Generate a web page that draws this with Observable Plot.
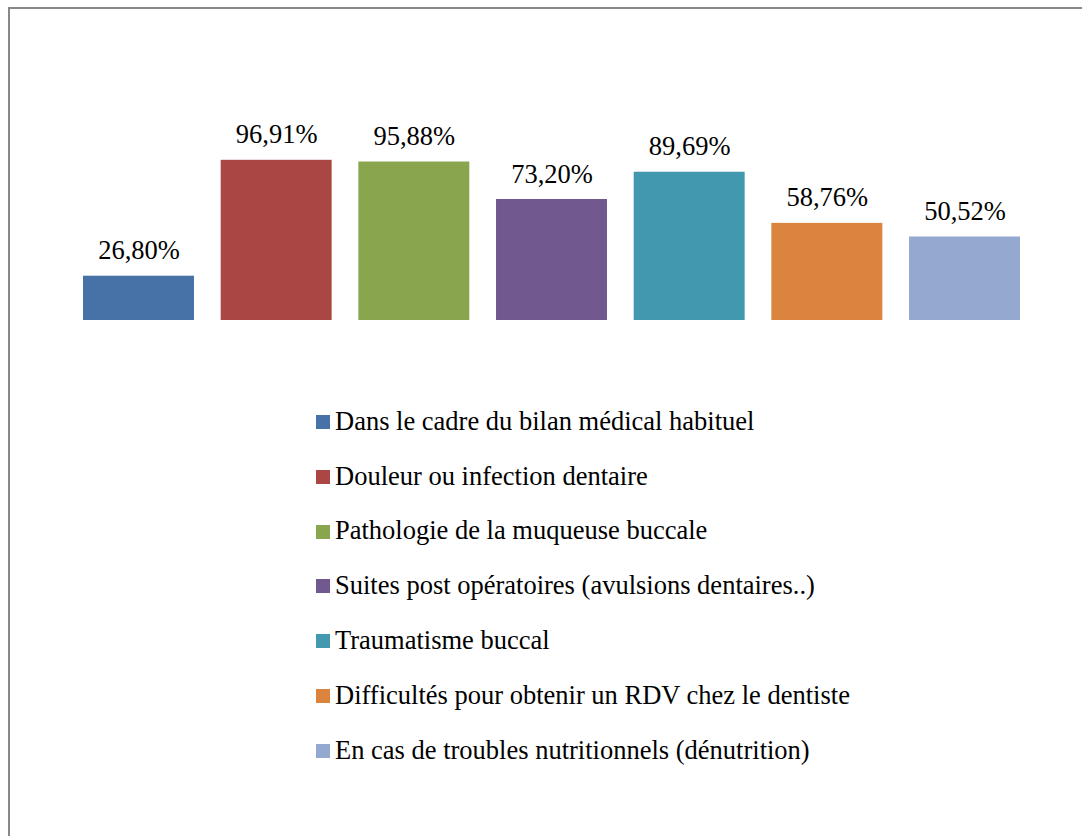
<!DOCTYPE html>
<html>
<head>
<meta charset="utf-8">
<script src="https://cdn.jsdelivr.net/npm/d3@7"></script>
<script src="https://cdn.jsdelivr.net/npm/@observablehq/plot@0.6"></script>
<style>
  html, body { margin: 0; padding: 0; background: #fff; }
  #wrap { position: relative; width: 1082px; height: 836px; overflow: hidden; font-family: "Liberation Serif", "Times New Roman", serif; }
  #frame { position: absolute; left: 8px; top: 7px; right: -20px; bottom: -20px; border-top: 2px solid #888; border-left: 2px solid #888; }
  #chart { position: absolute; left: 0; top: 0; }
  #chart svg text { font-family: "Liberation Serif", "Times New Roman", serif; }
  #legend { position: absolute; left: 316px; top: 393.6px; }
  .row { display: flex; align-items: center; height: 54.8px; }
  .sw { width: 14px; height: 14px; margin-right: 5px; flex: none; position: relative; top: 1px; }
  .lab { font-size: 26.5px; line-height: 1; color: #000; white-space: nowrap; }
</style>
</head>
<body>
<div id="wrap">
  <div id="frame"></div>
  <div id="chart"></div>
  <div id="legend"></div>
</div>
<script>
const categories = [
  "Dans le cadre du bilan médical habituel",
  "Douleur ou infection dentaire",
  "Pathologie de la muqueuse buccale",
  "Suites post opératoires (avulsions dentaires..)",
  "Traumatisme buccal",
  "Difficultés pour obtenir un RDV chez le dentiste",
  "En cas de troubles nutritionnels (dénutrition)"
];
const values = [26.80, 96.91, 95.88, 73.20, 89.69, 58.76, 50.52];
const palette = ["#4672A7", "#AA4643", "#89A54E", "#71588F", "#4198AF", "#DB843D", "#93A9CF"];

const data = categories.map((c, i) => ({cat: c, value: values[i]}));
const fmt = v => d3.format(".2f")(v).replace(".", ",") + "%";
const serif = "'Liberation Serif', 'Times New Roman', serif";

const chart = Plot.plot({
  width: 1082,
  height: 340,
  marginLeft: 56.3,
  marginRight: 35.3,
  marginTop: 154.7,
  marginBottom: 20,
  x: {domain: categories, padding: 0.194, round: false, axis: null},
  y: {domain: [0, 100], axis: null},
  color: {domain: categories, range: palette},
  style: {background: "transparent", fontFamily: serif, fontSize: "26.5px", overflow: "visible"},
  marks: [
    Plot.barY(data, {x: "cat", y: "value", fill: "cat"}),
    Plot.text(data, {x: "cat", y: "value", text: d => fmt(d.value), dy: -17, lineAnchor: "bottom", fill: "#000", fontSize: 26.5, fontFamily: serif})
  ]
});
document.getElementById("chart").appendChild(chart);

const legend = document.getElementById("legend");
categories.forEach((c, i) => {
  const row = document.createElement("div");
  row.className = "row";
  const sw = document.createElement("span");
  sw.className = "sw";
  sw.style.background = palette[i];
  const lab = document.createElement("span");
  lab.className = "lab";
  lab.textContent = c;
  row.appendChild(sw);
  row.appendChild(lab);
  legend.appendChild(row);
});
</script>
</body>
</html>
